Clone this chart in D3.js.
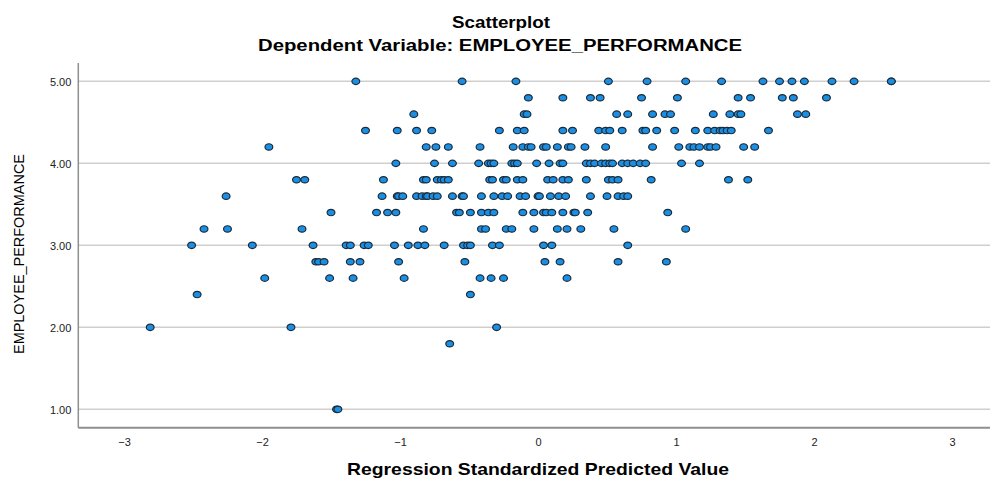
<!DOCTYPE html>
<html lang="en">
<head>
    <meta charset="UTF-8">
    <title>Scatterplot - EMPLOYEE_PERFORMANCE</title>
    <style>
        body {
            margin: 0;
            background: #fff;
            font-family: "Liberation Sans", Arial, sans-serif;
        }
        .grid line {
            stroke: #cfcfcf;
            stroke-width: 1.5px;
        }
        .axis-line {
            stroke: #8f8f8f;
            stroke-width: 1.5px;
        }
        .tick-label {
            font-size: 11px;
            fill: #222;
        }
        .point {
            fill: #1a8fe3;
            stroke: #1c2b39;
            stroke-width: 1.2px;
        }
    </style>
</head>
<body>
<svg id="chart" width="992" height="480"></svg>

<script src="https://d3js.org/d3.v7.min.js"></script>
<script>
// performance levels (y) and the standardized predicted values (x) at each level
const perfLevels = [5.0, 4.8, 4.6, 4.4, 4.2, 4.0, 3.8, 3.6, 3.4, 3.2, 3.0, 2.8, 2.6, 2.4, 2.0, 1.8, 1.0];

const predictedByLevel = [
    // 5.0
    [-1.32, -0.55, -0.16, 0.51, 0.79, 1.07, 1.33, 1.63, 1.75, 1.84, 1.93, 2.13, 2.29, 2.56, 2.56],
    // 4.8
    [-0.07, 0.18, 0.38, 0.45, 0.75, 1.01, 1.45, 1.54, 1.77, 1.85, 2.09],
    // 4.6
    [-0.90, -0.10, -0.08, 0.57, 0.65, 0.83, 0.92, 0.96, 1.27, 1.39, 1.45, 1.47, 1.88, 1.94],
    // 4.4
    [-1.25, -1.02, -0.88, -0.77, -0.28, -0.15, -0.10, 0.18, 0.25, 0.44, 0.49, 0.52, 0.61, 0.76,
     0.78, 0.86, 0.99, 1.14, 1.23, 1.28, 1.32, 1.34, 1.37, 1.40, 1.67],
    // 4.2
    [-1.95, -0.81, -0.74, -0.65, -0.42, -0.18, -0.11, -0.07, -0.05, 0.04, 0.06, 0.14, 0.22, 0.24,
     0.34, 0.49, 0.83, 1.02, 1.10, 1.13, 1.17, 1.23, 1.25, 1.29, 1.49, 1.57],
    // 4.0
    [-1.03, -0.75, -0.62, -0.43, -0.36, -0.34, -0.32, -0.19, -0.17, -0.15, -0.01, 0.08, 0.16, 0.18,
     0.35, 0.38, 0.41, 0.46, 0.49, 0.52, 0.54, 0.61, 0.65, 0.69, 0.74, 0.78, 1.04, 1.17],
    // 3.8
    [-1.75, -1.69, -1.12, -0.83, -0.81, -0.73, -0.70, -0.68, -0.65, -0.35, -0.33, -0.25, -0.23,
     -0.15, -0.11, 0.07, 0.11, 0.18, 0.22, 0.35, 0.51, 0.54, 0.58, 0.82, 1.38, 1.52],
    // 3.6
    [-2.26, -1.13, -1.02, -1.01, -0.98, -0.88, -0.84, -0.81, -0.80, -0.76, -0.73, -0.62, -0.55,
     -0.54, -0.41, -0.32, -0.26, -0.22, -0.13, -0.09, 0.00, 0.01, 0.09, 0.15, 0.20, 0.38, 0.50,
     0.58, 0.62, 0.65],
    // 3.4
    [-1.50, -1.17, -1.09, -1.03, -0.59, -0.57, -0.49, -0.41, -0.36, -0.32, -0.11, -0.03, 0.04,
     0.06, 0.10, 0.18, 0.26, 0.27, 0.36, 0.94],
    // 3.2
    [-2.42, -2.25, -1.71, -0.83, -0.41, -0.38, -0.23, -0.19, -0.03, 0.14, 0.21, 0.31, 0.55, 1.07],
    // 3.0
    [-2.51, -2.07, -1.63, -1.39, -1.36, -1.26, -1.23, -1.04, -0.94, -0.87, -0.82, -0.68, -0.54,
     -0.51, -0.49, -0.33, -0.28, 0.04, 0.10, 0.65],
    // 2.8
    [-1.61, -1.59, -1.55, -1.36, -1.29, -1.01, -0.53, 0.05, 0.16, 0.58, 0.93],
    // 2.6
    [-1.98, -1.51, -1.34, -0.97, -0.42, -0.34, -0.25, 0.21],
    // 2.4
    [-2.47, -0.49],
    // 2.0
    [-2.81, -1.79, -0.30],
    // 1.8
    [-0.64],
    // 1.0
    [-1.46, -1.45]
];

const xTicks = [-3, -2, -1, 0, 1, 2, 3];
const yTicks = [1, 2, 3, 4, 5];

const chartTitle = 'Scatterplot';
const chartSubtitle = 'Dependent Variable: EMPLOYEE_PERFORMANCE';
const xTitle = 'Regression Standardized Predicted Value';
const yTitle = 'EMPLOYEE_PERFORMANCE';

const points = [];
perfLevels.forEach((lvl, i) => {
    predictedByLevel[i].forEach(v => points.push({x: v, y: lvl}));
});

const svg = d3.select('#chart');

// plot area
const plotLeft = 78.3, plotRight = 990, plotTop = 63, plotBottom = 427.7;

const x = d3.scaleLinear().domain([-3.331, 3.275]).range([plotLeft, plotRight]);
const y = d3.scaleLinear().domain([0.776, 5.224]).range([plotBottom, plotTop]);

// horizontal gridlines
svg.append('g')
    .attr('class', 'grid')
    .selectAll('line')
    .data(yTicks)
    .enter().append('line')
    .attr('x1', plotLeft)
    .attr('x2', plotRight)
    .attr('y1', d => y(d))
    .attr('y2', d => y(d));

// axes (SPSS style: plain lines, no tick marks)
const yAxis = d3.axisLeft(y).tickValues(yTicks).tickSize(0).tickPadding(7)
    .tickFormat(d3.format('.2f'));
const xAxis = d3.axisBottom(x).tickValues(xTicks).tickSize(0).tickPadding(11)
    .tickFormat(d3.format('d'));

const gy = svg.append('g').attr('transform', `translate(${plotLeft},0)`).call(yAxis);
const gx = svg.append('g').attr('transform', `translate(0,${plotBottom})`).call(xAxis);

[gx, gy].forEach(g => {
    g.select('.domain').remove();
    g.selectAll('text')
        .attr('class', 'tick-label')
        .style('font-family', '"Liberation Sans", Arial, sans-serif');
});
gy.selectAll('text').attr('dy', '0.42em');

svg.append('line').attr('class', 'axis-line')
    .attr('x1', plotLeft).attr('x2', plotLeft).attr('y1', plotTop).attr('y2', plotBottom);
svg.append('line').attr('class', 'axis-line')
    .attr('x1', plotLeft).attr('x2', plotRight).attr('y1', plotBottom).attr('y2', plotBottom)
    .style('stroke-width', '2px');

// points
svg.append('g')
    .selectAll('ellipse')
    .data(points)
    .enter().append('ellipse')
    .attr('class', 'point')
    .attr('cx', d => x(d.x))
    .attr('cy', d => y(d.y))
    .attr('rx', 3.9)
    .attr('ry', 3.2);

// titles (stretched a little to match the wider lettering of the original)
svg.append('text')
    .attr('x', 501).attr('y', 28)
    .attr('text-anchor', 'middle')
    .attr('textLength', 98).attr('lengthAdjust', 'spacingAndGlyphs')
    .style('font-size', '16px').style('font-weight', 'bold')
    .text(chartTitle);

svg.append('text')
    .attr('x', 500).attr('y', 51)
    .attr('text-anchor', 'middle')
    .attr('textLength', 484).attr('lengthAdjust', 'spacingAndGlyphs')
    .style('font-size', '16px').style('font-weight', 'bold')
    .text(chartSubtitle);

svg.append('text')
    .attr('x', 538).attr('y', 475)
    .attr('text-anchor', 'middle')
    .attr('textLength', 382).attr('lengthAdjust', 'spacingAndGlyphs')
    .style('font-size', '17px').style('font-weight', 'bold')
    .text(xTitle);

svg.append('text')
    .attr('transform', 'translate(24,254) rotate(-90)')
    .attr('text-anchor', 'middle')
    .attr('textLength', 200).attr('lengthAdjust', 'spacingAndGlyphs')
    .style('font-size', '15px')
    .text(yTitle);
</script>
</body>
</html>
